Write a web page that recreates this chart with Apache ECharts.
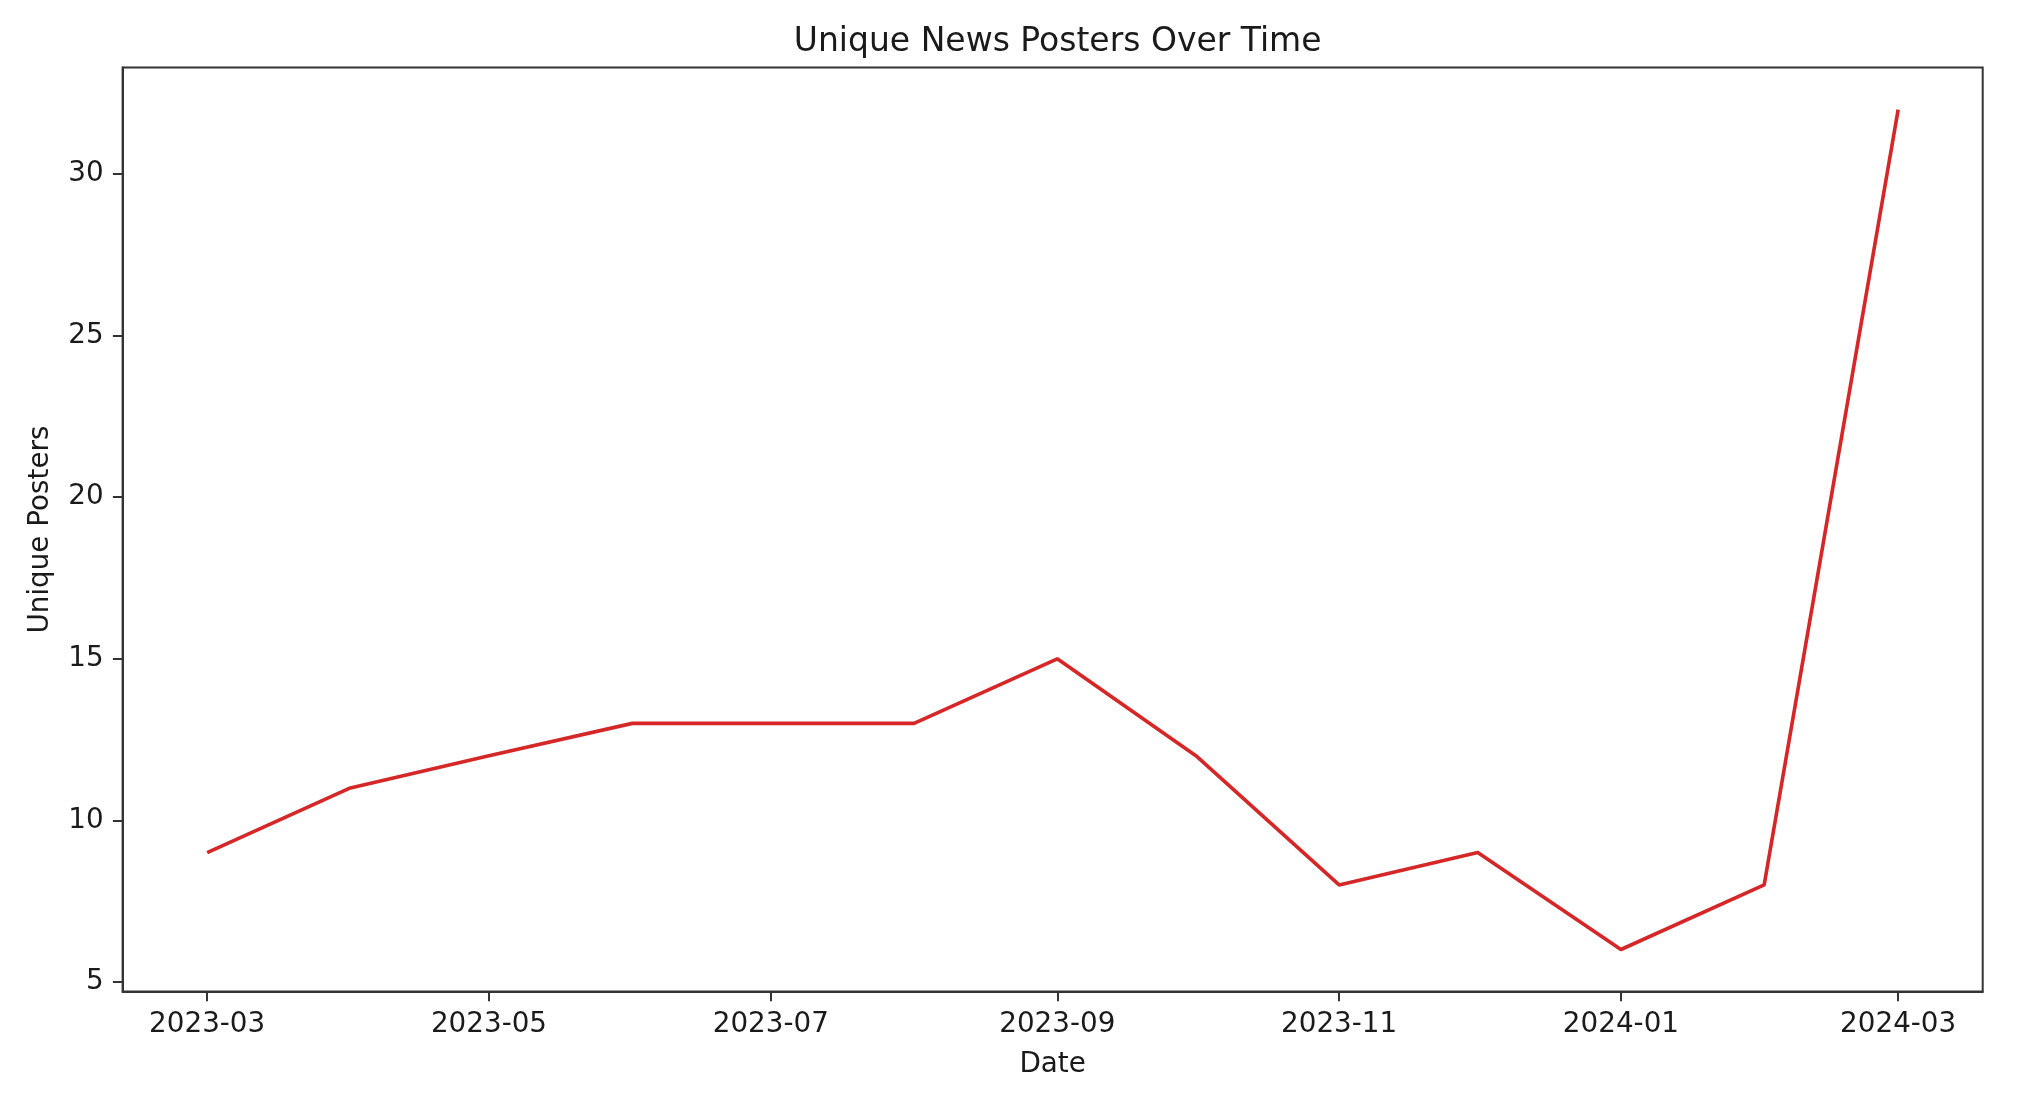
<!DOCTYPE html>
<html>
<head>
<meta charset="utf-8">
<script src="https://cdn.jsdelivr.net/npm/echarts@6/dist/echarts.min.js"></script>
<style>
html,body{margin:0;padding:0;background:#fff;}
#chart{width:2024px;height:1094px;}
</style>
</head>
<body>
<div id="chart"></div>
<script>
const dates = ['2023-03-01','2023-04-01','2023-05-01','2023-06-01','2023-07-01','2023-08-01','2023-09-01','2023-10-01','2023-11-01','2023-12-01','2024-01-01','2024-02-01','2024-03-01'];
const uniquePosters = [9, 11, 12, 13, 13, 13, 15, 12, 8, 9, 6, 8, 32];
const xTickLabels = ['2023-03','2023-05','2023-07','2023-09','2023-11','2024-01','2024-03'];
const yTickLabels = [5, 10, 15, 20, 25, 30];

const ts = s => new Date(s + 'T00:00:00Z').getTime();
const xs = dates.map(ts);
const span = xs[xs.length-1] - xs[0];
const xMin = xs[0] - span*0.05, xMax = xs[xs.length-1] + span*0.05;
const yLo = Math.min(...uniquePosters), yHi = Math.max(...uniquePosters);
const yMin = yLo - (yHi-yLo)*0.05, yMax = yHi + (yHi-yLo)*0.05;
const xTickVals = xTickLabels.map(l => ts(l + '-01'));
const pad = n => (n<10?'0':'')+n;
const fmtX = v => { const d = new Date(v); return d.getUTCFullYear() + '-' + pad(d.getUTCMonth()+1); };

const FONT = 'DejaVu Sans';
const TXT = '#1a1a1a';
const GL = 122.6, GR = 41.3;
const chart = echarts.init(document.getElementById('chart'), null, {renderer:'canvas'});
chart.setOption({
  animation:false,
  backgroundColor:'#fff',
  title:{text:'Unique News Posters Over Time', left:(GL + 2024 - GR)/2, textAlign:'center', top:21,
    textStyle:{fontFamily:FONT, fontSize:33, fontWeight:'normal', color:TXT}},
  grid:{left:GL, right:GR, top:67.6, bottom:102.5, show:true, borderColor:'#333', borderWidth:2, backgroundColor:'transparent'},
  xAxis:{type:'value', min:xMin, max:xMax, scale:true,
    name:'Date', nameLocation:'middle', nameGap:59,
    nameTextStyle:{fontFamily:FONT, fontSize:27.8, color:TXT},
    axisLine:{show:true, lineStyle:{color:'#333', width:2}},
    axisTick:{show:true, length:9.7, customValues:xTickVals, lineStyle:{color:'#333', width:2}},
    axisLabel:{customValues:xTickVals, formatter:fmtX, margin:19, fontFamily:FONT, fontSize:27.8, color:TXT, hideOverlap:false},
    splitLine:{show:false}},
  yAxis:{type:'value', min:yMin, max:yMax,
    name:'Unique Posters', nameLocation:'middle', nameGap:68,
    nameTextStyle:{fontFamily:FONT, fontSize:27.8, color:TXT},
    axisLine:{show:true, lineStyle:{color:'#333', width:2}},
    axisTick:{show:true, length:9.7, customValues:yTickLabels, lineStyle:{color:'#333', width:2}},
    axisLabel:{customValues:yTickLabels, margin:19, fontFamily:FONT, fontSize:27.8, color:TXT},
    splitLine:{show:false}},
  series:[{type:'line', data:xs.map((x,i)=>[x, uniquePosters[i]]), showSymbol:false, symbol:'none',
    lineStyle:{color:'#d62728', width:3.6}, itemStyle:{color:'#d62728'}}]
});
</script>
</body>
</html>
